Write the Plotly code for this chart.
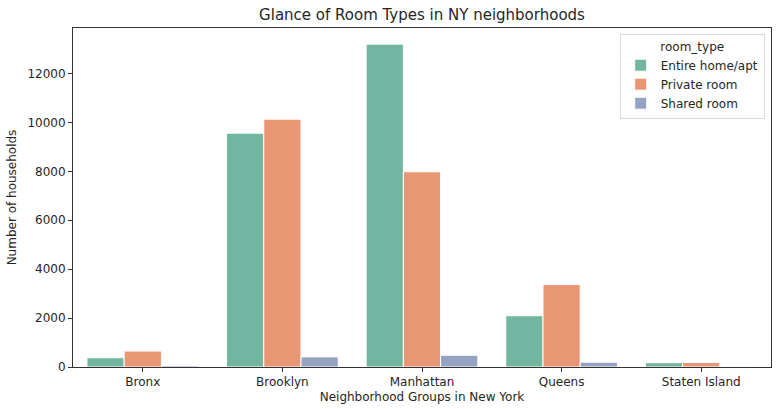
import plotly.graph_objects as go

neighbourhoods = ["Bronx", "Brooklyn", "Manhattan", "Queens", "Staten Island"]
room_types = ["Entire home/apt", "Private room", "Shared room"]
entire_home = [379, 9559, 13199, 2096, 176]
private_room = [652, 10132, 7982, 3372, 188]
shared_room = [60, 413, 480, 198, 9]
y_ticks = [0, 2000, 4000, 6000, 8000, 10000, 12000]

colors = ["#72b6a1", "#e99675", "#95a3c3"]
series = [entire_home, private_room, shared_room]

fig = go.Figure()
for name, vals, c in zip(room_types, series, colors):
    fig.add_trace(go.Bar(x=neighbourhoods, y=vals, name=name,
                         marker=dict(color=c, line=dict(color="white", width=1))))

axis_common = dict(showline=True, linecolor="#333333", linewidth=1, mirror=True,
                   ticks="outside", ticklen=4, tickcolor="#333333",
                   showgrid=False, zeroline=False, automargin=False,
                   tickfont=dict(family="DejaVu Sans", size=12, color="#262626"))

fig.update_layout(
    width=777, height=409,
    margin=dict(l=73, r=6, t=28, b=42),
    paper_bgcolor="white", plot_bgcolor="white",
    barmode="group", bargap=0.2, bargroupgap=0,
    title=dict(text="Glance of Room Types in NY neighborhoods", x=(73 + 771) / 2 / 777,
               xanchor="center", y=1 - 15 / 409, yanchor="middle",
               font=dict(family="DejaVu Sans", size=15, color="#262626")),
    font=dict(family="DejaVu Sans", size=12, color="#262626"),
    legend=dict(x=0.991, y=0.982, xanchor="right", yanchor="top",
                bordercolor="#d9d9d9", borderwidth=1, bgcolor="rgba(255,255,255,0.8)",
                title=dict(text="room_type", side="top center",
                           font=dict(family="DejaVu Sans", size=12)),
                font=dict(family="DejaVu Sans", size=12), tracegroupgap=0),
)
fig.update_xaxes(**axis_common, range=[-0.5, 4.5],
                 title=dict(text="Neighborhood Groups in New York", standoff=4,
                            font=dict(family="DejaVu Sans", size=12)))
fig.update_yaxes(**axis_common, range=[0, 13859], tickvals=y_ticks,
                 ticktext=[str(v) for v in y_ticks],
                 title=dict(text="Number of households", standoff=8,
                            font=dict(family="DejaVu Sans", size=12)))

fig.write_html("out.html", config={"displayModeBar": False},
               post_script="document.body.style.margin='0';document.body.style.overflow='hidden';")
